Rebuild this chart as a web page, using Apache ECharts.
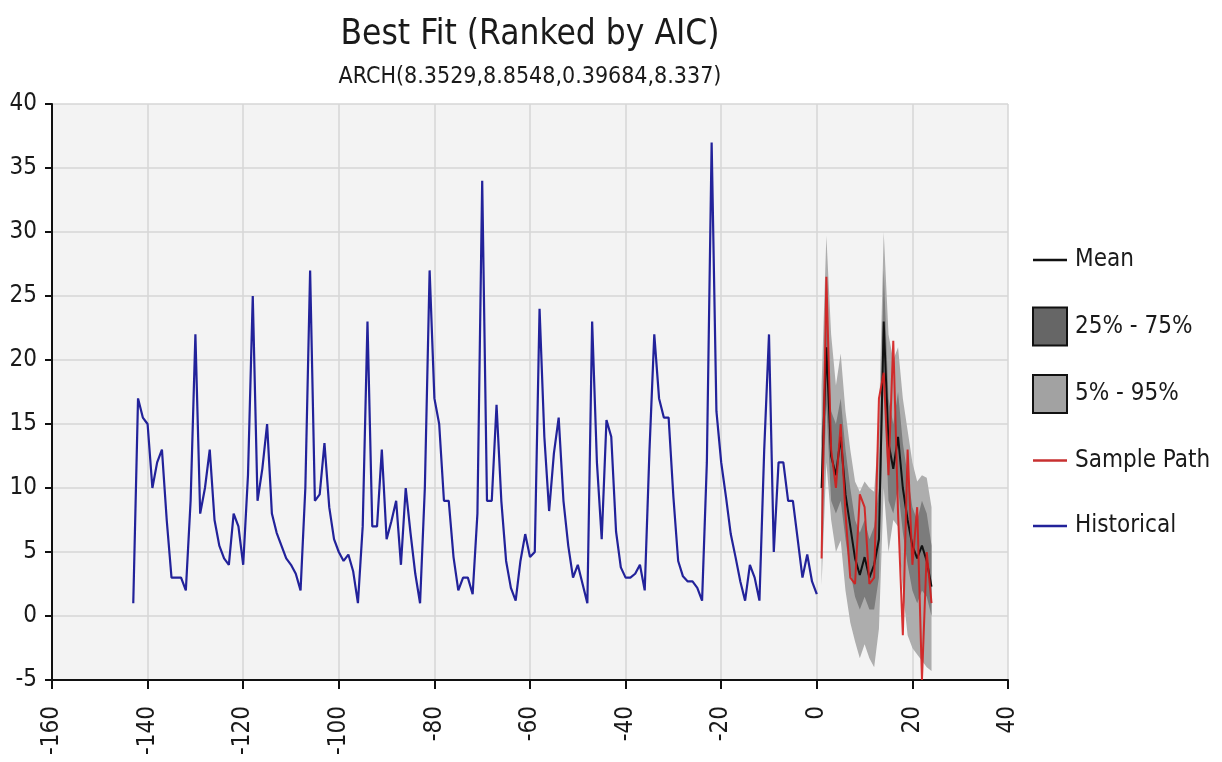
<!DOCTYPE html>
<html>
<head>
<meta charset="utf-8">
<script src="https://cdn.jsdelivr.net/npm/echarts@6/dist/echarts.min.js"></script>
<style>
html,body{margin:0;padding:0;background:#fff;}
#chart{width:1222px;height:762px;}
</style>
</head>
<body>
<div id="chart"></div>
<script>
// ---- Data ----
var titleText = 'Best Fit (Ranked by AIC)';
var subtitleText = 'ARCH(8.3529,8.8548,0.39684,8.337)';
var histStart = -143;
var historical = [1,17,15.5,15,10,12,13,7.5,3,3,
  3,2,9,22,8,10,13,7.5,5.5,4.5,
  4,8,7,4,11,25,9,11.5,15,8,
  6.5,5.5,4.5,4,3.3,2,10,27,9,9.5,
  13.5,8.5,6,5,4.3,4.8,3.5,1,7,23,
  7,7,13,6,7.4,9,4,10,6.5,3.3,
  1,10,27,17,15,9,9,4.6,2,3,
  3,1.7,8,34,9,9,16.5,9,4.3,2.2,
  1.2,4.3,6.4,4.6,5,24,14,8.2,12.7,15.5,
  9,5.5,3,4,2.5,1,23,12,6,15.3,
  14,6.6,3.8,3,3,3.3,4,2,13,22,
  17,15.5,15.5,9.3,4.3,3.1,2.7,2.7,2.2,1.2,
  12,37,16,12,9.3,6.4,4.6,2.7,1.2,4,
  3,1.2,13,22,5,12,12,9,9,6,
  3,4.8,2.7,1.7];
var fcStart = 1;
var meanVals   = [10,21,12.5,11,14,9.5,7,4.5,3.2,4.6,3,4,6,23,13.5,11.5,14,10,7.5,5.5,4.5,5.5,4.3,2.3];
var p5Vals     = [2.4,12,7.5,5,5.9,2,-0.5,-2,-3.3,-2.2,-3.3,-4,-1,10,5,7.5,7,2,-1.5,-2.5,-3,-3.5,-4,-4.3];
var p25Vals    = [6,16.5,9,8,9,6,3.5,1.5,0.5,1.5,0.5,0.5,3,19,9,8,10,6.5,4,2,1,2,1.5,0];
var p75Vals    = [14,24,16,15,17,13,10,7.5,6.5,7.5,6,7,10,27,17,15,17.5,13.5,11,8.5,7.5,9,8,5.5];
var p95Vals    = [18,29.7,22,18,20.5,16,13,10.5,9.7,10.5,10,9.7,15,30,22,20,21,17,14.5,12,10.5,11,10.8,8.5];
var sampleVals = [4.5,26.5,13,10,15,8,3,2.5,9.5,8.5,2.5,3,17,19,11,21.5,8,-1.5,13,4,8.5,-5,5,1];

// ---- Build ----
function pairs(start, arr){ return arr.map(function(v,i){ return [start+i, v]; }); }
var FONT = '"DejaVu Sans Condensed","DejaVu Sans",sans-serif';
var TXT = '#1a1a1a';
// thin horizontal bar centred in a unit box (tiny corner marks keep the box full size)
var LINE_ICON = 'path://M0,0H0.001V0.001H0Z M0,0.47H1V0.53H0Z M0,0.999H0.001V1H0Z';

function bandSeries(name, lo, hi, fill, z){
  var data = lo.map(function(v,i){ return [fcStart+i, v, hi[i]]; });
  return {
    name:name, type:'custom', data:data, encode:{x:0, y:[1,2]}, z:z,
    itemStyle:{color:fill},
    renderItem:function(params, api){
      if (params.dataIndex !== 0) return null;
      var top = [], bot = [];
      for (var i = 0; i < data.length; i++){
        top.push(api.coord([data[i][0], data[i][2]]));
        bot.push(api.coord([data[i][0], data[i][1]]));
      }
      return {type:'polygon', shape:{points:top.concat(bot.reverse())}, style:{fill:fill}};
    }
  };
}

var chart = echarts.init(document.getElementById('chart'));
chart.setOption({
  animation:false,
  backgroundColor:'#ffffff',
  textStyle:{fontFamily:FONT},
  title:{
    text:titleText, subtext:subtitleText,
    left:525, top:12, textAlign:'center', itemGap:14,
    textStyle:{fontSize:35, fontWeight:'normal', color:TXT, fontFamily:FONT},
    subtextStyle:{fontSize:23, color:TXT, fontFamily:FONT}
  },
  legend:{
    orient:'vertical', left:1027, top:236,
    itemWidth:34, itemHeight:38, itemGap:27.5,
    symbolKeepAspect:false,
    textStyle:{fontSize:24, color:TXT, fontFamily:FONT, padding:[0,0,0,3]},
    data:[
      {name:'Mean', icon:LINE_ICON, itemStyle:{color:'#111'}},
      {name:'25% - 75%', icon:'rect', itemStyle:{color:'#666666', borderColor:'#111', borderWidth:2}},
      {name:'5% - 95%', icon:'rect', itemStyle:{color:'#a2a2a2', borderColor:'#111', borderWidth:2}},
      {name:'Sample Path', icon:LINE_ICON, itemStyle:{color:'#c83030'}},
      {name:'Historical', icon:LINE_ICON, itemStyle:{color:'#22229a'}}
    ]
  },
  grid:{left:52, right:214, top:104, bottom:82, show:true, backgroundColor:'#f3f3f3', borderWidth:0},
  xAxis:{
    type:'value', min:-160, max:40, interval:20,
    axisLine:{show:true, onZero:false, lineStyle:{color:'#111', width:2}},
    axisTick:{show:true, length:9, lineStyle:{color:'#111', width:2}},
    axisLabel:{rotate:90, fontSize:24, color:TXT, margin:26, fontFamily:FONT},
    splitLine:{show:true, lineStyle:{color:'#d6d6d6', width:1.5}}
  },
  yAxis:{
    type:'value', min:-5, max:40, interval:5,
    axisLine:{show:true, onZero:false, lineStyle:{color:'#111', width:2}},
    axisTick:{show:true, length:7, lineStyle:{color:'#111', width:2}},
    axisLabel:{fontSize:24, color:TXT, margin:15, fontFamily:FONT},
    splitLine:{show:true, lineStyle:{color:'#d6d6d6', width:1.5}}
  },
  series:[
    bandSeries('5% - 95%', p5Vals, p95Vals, '#adadad', 1),
    bandSeries('25% - 75%', p25Vals, p75Vals, '#7c7c7c', 2),
    {name:'Mean', type:'line', data:pairs(fcStart,meanVals), symbol:'none',
     lineStyle:{color:'#111', width:2}, itemStyle:{color:'#111'}, z:3},
    {name:'Sample Path', type:'line', data:pairs(fcStart,sampleVals), symbol:'none',
     lineStyle:{color:'#d41c1c', width:2, opacity:0.9}, itemStyle:{color:'#c83030'}, z:4},
    {name:'Historical', type:'line', data:pairs(histStart,historical), symbol:'none',
     lineStyle:{color:'#22229a', width:2.2}, itemStyle:{color:'#22229a'}, z:5}
  ]
});
</script>
</body>
</html>
